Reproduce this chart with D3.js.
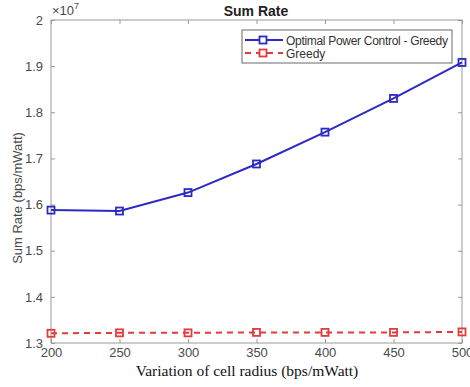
<!DOCTYPE html>
<html>
<head>
<meta charset="utf-8">
<script src="https://cdn.jsdelivr.net/npm/d3@7"></script>
<style>
  body { margin: 0; background: #fff; }
</style>
</head>
<body>
<svg width="470" height="387"></svg>
<script>
let radius = [200, 250, 300, 350, 400, 450, 500];
let optimal = [1.588, 1.586, 1.626, 1.688, 1.757, 1.830, 1.908];
let greedy = [1.321, 1.322, 1.322, 1.323, 1.323, 1.323, 1.324];
let yTicks = [1.3, 1.4, 1.5, 1.6, 1.7, 1.8, 1.9, 2];
let seriesNames = ["Optimal Power Control - Greedy", "Greedy"];

let plotLeft = 51, plotRight = 462, plotTop = 20, plotBottom = 343;
let sans = 'Arial, "Liberation Sans", sans-serif';

let svg = d3.select('svg').attr('font-family', sans);

let x = d3.scaleLinear().domain([200, 500]).range([plotLeft, plotRight]);
let y = d3.scaleLinear().domain([1.3, 2]).range([plotBottom, plotTop]);

let axisColor = '#9a9a9a';
let labelColor = '#4a4a4a';

// frame
svg.append('rect').attr('x', plotLeft).attr('y', plotTop).attr('width', plotRight - plotLeft).attr('height', plotBottom - plotTop)
  .attr('fill', 'none').attr('stroke', axisColor).attr('stroke-width', 1);

let xa = svg.append('g').attr('transform', `translate(0,${plotBottom})`)
  .call(d3.axisBottom(x).tickValues(radius).tickSize(-4).tickPadding(5).tickFormat(d3.format('d')));
let xt = svg.append('g').attr('transform', `translate(0,${plotTop})`)
  .call(d3.axisTop(x).tickValues(radius).tickSize(-4).tickFormat(''));
let ya = svg.append('g').attr('transform', `translate(${plotLeft},0)`)
  .call(d3.axisLeft(y).tickValues(yTicks).tickSize(-4).tickPadding(8).tickFormat(d => d3.format('.1f')(d).replace('2.0', '2')));
let yr = svg.append('g').attr('transform', `translate(${plotRight},0)`)
  .call(d3.axisRight(y).tickValues(yTicks).tickSize(-4).tickFormat(''));

[xa, xt, ya, yr].forEach(g => {
  g.select('.domain').remove();
  g.selectAll('line').attr('stroke', axisColor);
  g.selectAll('text').attr('fill', labelColor).attr('font-size', 13).attr('font-family', sans);
});

// exponent
let ex = svg.append('text').attr('x', plotLeft + 1).attr('y', 15).attr('fill', labelColor).attr('font-size', 13);
ex.append('tspan').text('\u00d710');
ex.append('tspan').attr('dy', -6).attr('font-size', 9).text('7');

// title
svg.append('text').attr('x', 256).attr('y', 16).attr('text-anchor', 'middle')
  .attr('font-weight', 'bold').attr('font-size', 14).attr('fill', '#222').text('Sum Rate');

// axis labels
svg.append('text').attr('x', 247).attr('y', 376).attr('text-anchor', 'middle')
  .attr('font-family', '"Liberation Serif", "Times New Roman", serif').attr('font-size', 15.5).attr('fill', '#111')
  .text('Variation of cell radius (bps/mWatt)');
svg.append('text').attr('transform', 'translate(22,198) rotate(-90)').attr('text-anchor', 'middle')
  .attr('font-size', 13).attr('fill', labelColor).text('Sum Rate (bps/mWatt)');

let line = d3.line().x((d, i) => x(radius[i])).y(d => y(d));

let blue = '#2b2bc4', red = '#e03c3c';

svg.append('path').datum(optimal).attr('d', line).attr('fill', 'none').attr('stroke', blue).attr('stroke-width', 2);
svg.selectAll('.mb').data(optimal).enter().append('rect')
  .attr('x', (d, i) => x(radius[i]) - 3.5).attr('y', d => y(d) - 3.5).attr('width', 7).attr('height', 7)
  .attr('fill', 'none').attr('stroke', blue).attr('stroke-width', 1.8);

svg.append('path').datum(greedy).attr('d', line).attr('fill', 'none').attr('stroke', red).attr('stroke-width', 2)
  .attr('stroke-dasharray', '6,5');
svg.selectAll('.mr').data(greedy).enter().append('rect')
  .attr('x', (d, i) => x(radius[i]) - 3.5).attr('y', d => y(d) - 3.5).attr('width', 7).attr('height', 7)
  .attr('fill', 'none').attr('stroke', red).attr('stroke-width', 1.8);

// legend
let lg = svg.append('g').attr('transform', 'translate(242,30)');
lg.append('rect').attr('width', 210).attr('height', 33).attr('fill', '#fff').attr('stroke', '#444').attr('stroke-width', 0.8);
let legendItems = [{name: seriesNames[0], c: blue, dash: null}, {name: seriesNames[1], c: red, dash: '6,5'}];
legendItems.forEach((it, i) => {
  let yy = 10 + i * 13;
  lg.append('line').attr('x1', 3).attr('x2', 41).attr('y1', yy).attr('y2', yy)
    .attr('stroke', it.c).attr('stroke-width', 2).attr('stroke-dasharray', it.dash);
  lg.append('rect').attr('x', 17.5).attr('y', yy - 3.5).attr('width', 7).attr('height', 7)
    .attr('fill', '#fff').attr('stroke', it.c).attr('stroke-width', 1.8);
  lg.append('text').attr('x', 44).attr('y', yy + 4.5).attr('font-size', 12).attr('fill', '#333')
    .attr('textLength', it.name.length > 10 ? 162 : null).text(it.name);
});
</script>
</body>
</html>
